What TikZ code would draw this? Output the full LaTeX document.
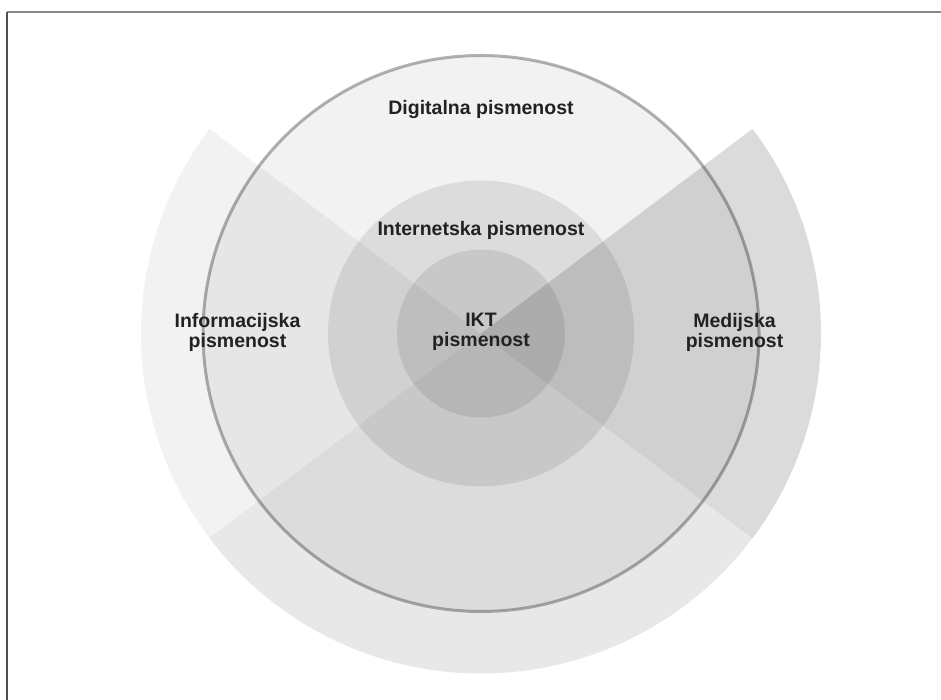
\documentclass[tikz,border=0pt]{standalone}
\usepackage{fontspec}
\setmainfont{Liberation Sans}
\definecolor{labeltext}{HTML}{222222}
\definecolor{bordertop}{HTML}{8A8A8A}
\definecolor{borderleft}{HTML}{505050}
\begin{document}
\begin{tikzpicture}[x=1pt,y=1pt,
  lbl/.style={font=\fontsize{19.5}{20}\selectfont\bfseries, text=labeltext, align=center, inner sep=0pt},
  tint/.style={fill=black, fill opacity=#1, draw=none},
  ring/.style={draw=black, draw opacity=0.3, line width=3, fill=none}]
\useasboundingbox (0,0) rectangle (941,700);
\coordinate (c) at (481,366.5);
% frame (top and left edges only)
\draw[bordertop, line width=1.2] (7,688) -- (941,688);
\draw[borderleft, line width=1.2] (7,0) -- (7,688);
% wedges
\fill[tint=0.05] (c) -- ++(143:340) arc[start angle=143, end angle=217, radius=340] -- cycle;
\fill[tint=0.14] (c) -- ++(-37:340) arc[start angle=-37, end angle=37, radius=340] -- cycle;
\fill[tint=0.09] (c) -- ++(217:340) arc[start angle=217, end angle=323, radius=340] -- cycle;
% circles
\fill[tint=0.05] (c) circle[radius=278];
\fill[tint=0.09] (c) circle[radius=153];
\fill[tint=0.09] (c) circle[radius=84];
\draw[ring] (c) circle[radius=278];
% labels
\node[lbl] (digital) at (481,590) {Digitalna pismenost};
\node[lbl] (internet) at (481,470) {Internetska pismenost};
\node[lbl] (ikt) at (481,368) {IKT\\pismenost};
\node[lbl] (info) at (237.5,368) {Informacijska\\pismenost};
\node[lbl] (media) at (734.5,368) {Medijska\\pismenost};
\end{tikzpicture}
\end{document}
